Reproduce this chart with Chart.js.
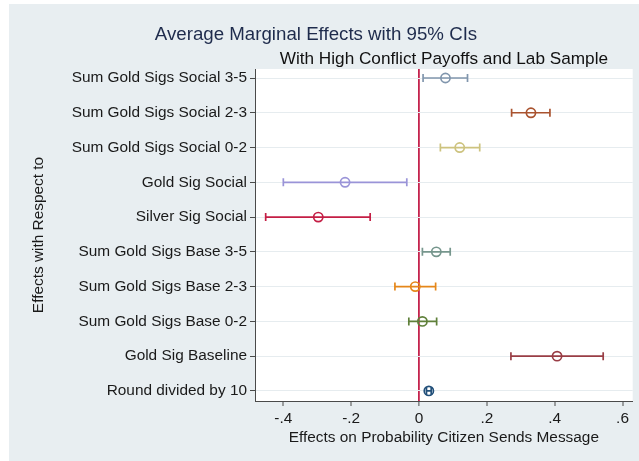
<!DOCTYPE html>
<html><head><meta charset="utf-8">
<script src="https://cdn.jsdelivr.net/npm/chart.js@4.4.0/dist/chart.umd.min.js"></script>
<style>html,body{margin:0;padding:0;background:#fff;overflow:hidden;} #wrap{width:639px;height:461px;position:relative;}</style>
</head><body><div id="wrap"><canvas id="c" width="639" height="461"></canvas></div>
<script>
// ---- data ----
const categories = [
  'Sum Gold Sigs Social 3-5',
  'Sum Gold Sigs Social 2-3',
  'Sum Gold Sigs Social 0-2',
  'Gold Sig Social',
  'Silver Sig Social',
  'Sum Gold Sigs Base 3-5',
  'Sum Gold Sigs Base 2-3',
  'Sum Gold Sigs Base 0-2',
  'Gold Sig Baseline',
  'Round divided by 10'
];
const estimates = [0.078, 0.330, 0.120, -0.218, -0.297, 0.051, -0.011, 0.010, 0.407, 0.029];
const ciLow     = [0.012, 0.273, 0.063, -0.400, -0.452, 0.010, -0.071, -0.030, 0.271, 0.022];
const ciHigh    = [0.143, 0.386, 0.179, -0.036, -0.144, 0.092,  0.049,  0.052, 0.543, 0.036];
const xTickValues = [-0.4, -0.2, 0, 0.2, 0.4, 0.6];
const xTickLabels = ['-.4', '-.2', '0', '.2', '.4', '.6'];
const titleText = 'Average Marginal Effects with 95% CIs';
const subtitleText = 'With High Conflict Payoffs and Lab Sample';
const xTitle = 'Effects on Probability Citizen Sends Message';
const yTitle = 'Effects with Respect to';

// ---- styles ----
const seriesColors = ['#8196ad', '#a9532f', '#cdc37f', '#9a94d8', '#c41e45', '#76968d', '#e5871a', '#5f803a', '#993d45', '#22507a'];
const FONT = '"Liberation Sans", Arial, Helvetica, sans-serif';
const LABEL_SIZE = 15.4;
const zeroColor = '#c4234d';
const axisColor = '#4a4a4a';
const gridColor = '#e6ecef';
const panelColor = '#e8eef1';

const datasets = [];
datasets.push({
  type: 'scatter',
  data: categories.map((c, i) => ({x: estimates[i], y: i + 1})),
  pointStyle: 'circle',
  pointRadius: 4.6,
  pointHoverRadius: 4.6,
  pointBorderWidth: 1.7,
  pointBorderColor: seriesColors,
  pointBackgroundColor: 'rgba(0,0,0,0)',
  order: 0
});
categories.forEach((c, i) => {
  datasets.push({
    type: 'line',
    data: [{x: ciLow[i], y: i + 1}, {x: ciHigh[i], y: i + 1}],
    borderColor: seriesColors[i],
    borderWidth: 1.7,
    pointStyle: 'line',
    rotation: 90,
    pointRadius: 4,
    pointHoverRadius: 4,
    pointBorderWidth: 1.7,
    pointBorderColor: seriesColors[i],
    fill: false,
    order: 1
  });
});

const bgPlugin = {
  id: 'bg',
  beforeDraw(chart) {
    const {ctx, chartArea} = chart;
    ctx.save();
    ctx.fillStyle = '#ffffff';
    ctx.fillRect(0, 0, chart.width, chart.height);
    ctx.fillStyle = panelColor;
    ctx.fillRect(9, 4, chart.width - 9, chart.height - 4);
    ctx.fillStyle = '#ffffff';
    ctx.fillRect(chartArea.left, chartArea.top, chartArea.right - chartArea.left, chartArea.bottom - chartArea.top);
    ctx.restore();
  },
  afterDraw(chart) {
    const {ctx, chartArea} = chart;
    ctx.save();
    ctx.textAlign = 'center';
    ctx.textBaseline = 'middle';
    ctx.fillStyle = '#1e2b4c';
    ctx.font = '18.7px ' + FONT;
    ctx.fillText(titleText, 316, 35);
    ctx.fillStyle = '#111111';
    ctx.font = '17.2px ' + FONT;
    ctx.fillText(subtitleText, (chartArea.left + chartArea.right) / 2, 59);
    ctx.restore();
  }
};

new Chart(document.getElementById('c'), {
  data: {datasets},
  options: {
    responsive: false,
    animation: false,
    events: [],
    layout: {padding: {top: 69, right: 2, left: 0, bottom: 0}},
    plugins: {legend: {display: false}, tooltip: {enabled: false}, title: {display: false}},
    scales: {
      x: {
        type: 'linear',
        position: 'bottom',
        min: -0.4835,
        max: 0.630,
        afterBuildTicks(scale) { scale.ticks = xTickValues.map(v => ({value: v})); },
        afterFit(scale) { scale.height = 60; },
        ticks: {
          autoSkip: false,
          maxRotation: 0,
          padding: 4,
          color: '#1a1a1a',
          font: {family: FONT, size: LABEL_SIZE},
          callback(v, idx) { return xTickLabels[idx]; }
        },
        grid: {
          display: true,
          drawOnChartArea: true,
          drawTicks: true,
          tickLength: 5,
          lineWidth: ctx => (ctx.tick && Math.abs(ctx.tick.value) < 1e-9) ? 1.8 : 0,
          color: ctx => (ctx.tick && Math.abs(ctx.tick.value) < 1e-9) ? zeroColor : 'rgba(0,0,0,0)',
          tickColor: axisColor,
          tickWidth: 1
        },
        border: {display: true, color: axisColor, width: 1},
        title: {
          display: true,
          text: xTitle,
          color: '#1a1a1a',
          font: {family: FONT, size: LABEL_SIZE},
          padding: {top: 0, bottom: 14}
        }
      },
      y: {
        type: 'linear',
        position: 'left',
        reverse: true,
        min: 0.741,
        max: 10.29,
        afterBuildTicks(scale) { scale.ticks = categories.map((c, i) => ({value: i + 1})); },
        afterFit(scale) { scale.width = 255; },
        ticks: {
          autoSkip: false,
          padding: 3,
          color: '#1a1a1a',
          font: {family: FONT, size: LABEL_SIZE},
          callback(v) { return categories[Math.round(v) - 1]; }
        },
        grid: {
          display: true,
          drawOnChartArea: true,
          drawTicks: true,
          tickLength: 5,
          color: gridColor,
          lineWidth: 1,
          tickColor: axisColor,
          tickWidth: 1
        },
        border: {display: true, color: axisColor, width: 1},
        title: {
          display: true,
          text: yTitle,
          color: '#1a1a1a',
          font: {family: FONT, size: LABEL_SIZE},
          padding: {top: 30, bottom: 0}
        }
      }
    }
  },
  plugins: [bgPlugin]
});
</script>
</body></html>
